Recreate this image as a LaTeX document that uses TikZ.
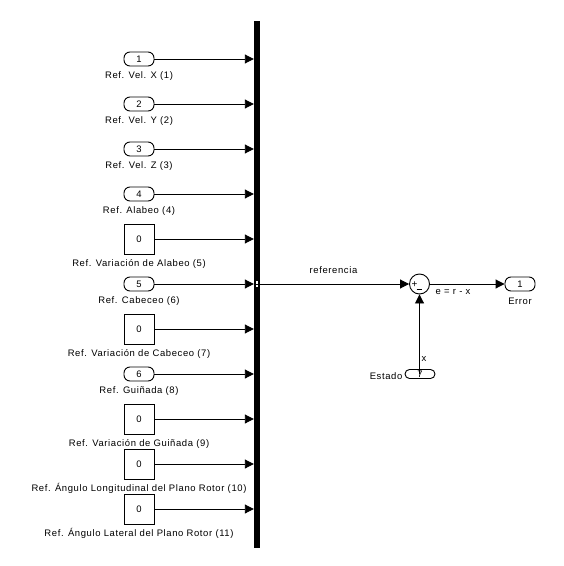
\documentclass[tikz,border=0pt]{standalone}
\usepackage{fontspec}
\setmainfont{Liberation Sans}[LetterSpace=6.5]
\usetikzlibrary{arrows.meta}
\tikzset{
  x=1bp,y=-1bp,
  pill/.style={draw,line width=0.9bp,rounded corners=6bp,minimum width=30bp,minimum height=14bp,inner sep=0pt,font=\fontsize{9.5}{10}\selectfont},
  constbox/.style={draw,line width=0.9bp,minimum width=30bp,minimum height=30bp,inner sep=0pt,font=\fontsize{9.5}{10}\selectfont},
  lbl/.style={inner sep=0pt,font=\fontsize{9.5}{10}\selectfont,yshift=-0.8bp},
  sig/.style={line width=0.9bp,-{Triangle[length=9bp,width=9bp]},shorten >=0bp},
  sumnode/.style={draw,circle,line width=0.9bp,minimum size=20bp,inner sep=0pt},
}
\begin{document}
\begin{tikzpicture}
\useasboundingbox[fill=white] (0,0) rectangle (564,566);
\node[fill=black,minimum width=6bp,minimum height=527bp,inner sep=0pt] (bar) at (257,284.5) {};
\node[pill] (p1) at (139,59) {1};
\node[pill] (p2) at (139,104) {2};
\node[pill] (p3) at (139,149) {3};
\node[pill] (p4) at (139,194) {4};
\node[constbox] (c5) at (139,239) {0};
\node[pill] (p6) at (139,284) {5};
\node[constbox] (c7) at (139,329) {0};
\node[pill] (p8) at (139,374) {6};
\node[constbox] (c9) at (139,419) {0};
\node[constbox] (c10) at (139,464) {0};
\node[constbox] (c11) at (139,509) {0};
\node[lbl] (l1) at (139,75) {Ref. Vel. X (1)};
\node[lbl] (l2) at (139,120) {Ref. Vel. Y (2)};
\node[lbl] (l3) at (139,165) {Ref. Vel. Z (3)};
\node[lbl] (l4) at (139,210) {Ref. Alabeo (4)};
\node[lbl] (l5) at (139,263) {Ref. Variación de Alabeo (5)};
\node[lbl] (l6) at (139,300) {Ref. Cabeceo (6)};
\node[lbl] (l7) at (139,353) {Ref. Variación de Cabeceo (7)};
\node[lbl] (l8) at (139,390) {Ref. Guiñada (8)};
\node[lbl] (l9) at (139,443) {Ref. Variación de Guiñada (9)};
\node[lbl] (l10) at (139,488) {Ref. Ángulo Longitudinal del Plano Rotor (10)};
\node[lbl] (l11) at (139,533) {Ref. Ángulo Lateral del Plano Rotor (11)};
\foreach \n in {p1,p2,p3,p4,c5,p6,c7,p8,c9,c10,c11}
  \draw[sig] (\n.east) -- (\n.east -| bar.west);
\node[draw=black,fill=white,line width=0.7bp,minimum width=3.5bp,minimum height=6.5bp,inner sep=0pt] (port) at (257,284) {};
\draw[line width=0.7bp] (port.west) -- (port.east);
\node[sumnode] (sum) at (419.5,284) {};
\node[lbl,font=\fontsize{10}{10}\selectfont] (plus) at (414.5,283.7) {+};
\draw[line width=0.9bp] (416.5,289.5) -- (421.5,289.5);
\node[pill] (err) at (520,284) {1};
\node[lbl] (lerr) at (520,300) {Error};
\node[pill,minimum height=9bp,rounded corners=4.5bp] (est) at (420,374) {7};
\node[lbl,anchor=east] (lest) at (402.5,375) {Estado};
\node[lbl] (lref) at (333.5,269) {referencia};
\node[lbl] (le) at (453,291) {e = r - x};
\node[lbl] (lx) at (424,358) {x};
\draw[sig] (port.east) -- (sum.west);
\draw[sig] (sum.east) -- (err.west);
\draw[sig] (sum.south |- est.center) -- (sum.south);
\end{tikzpicture}
\end{document}
